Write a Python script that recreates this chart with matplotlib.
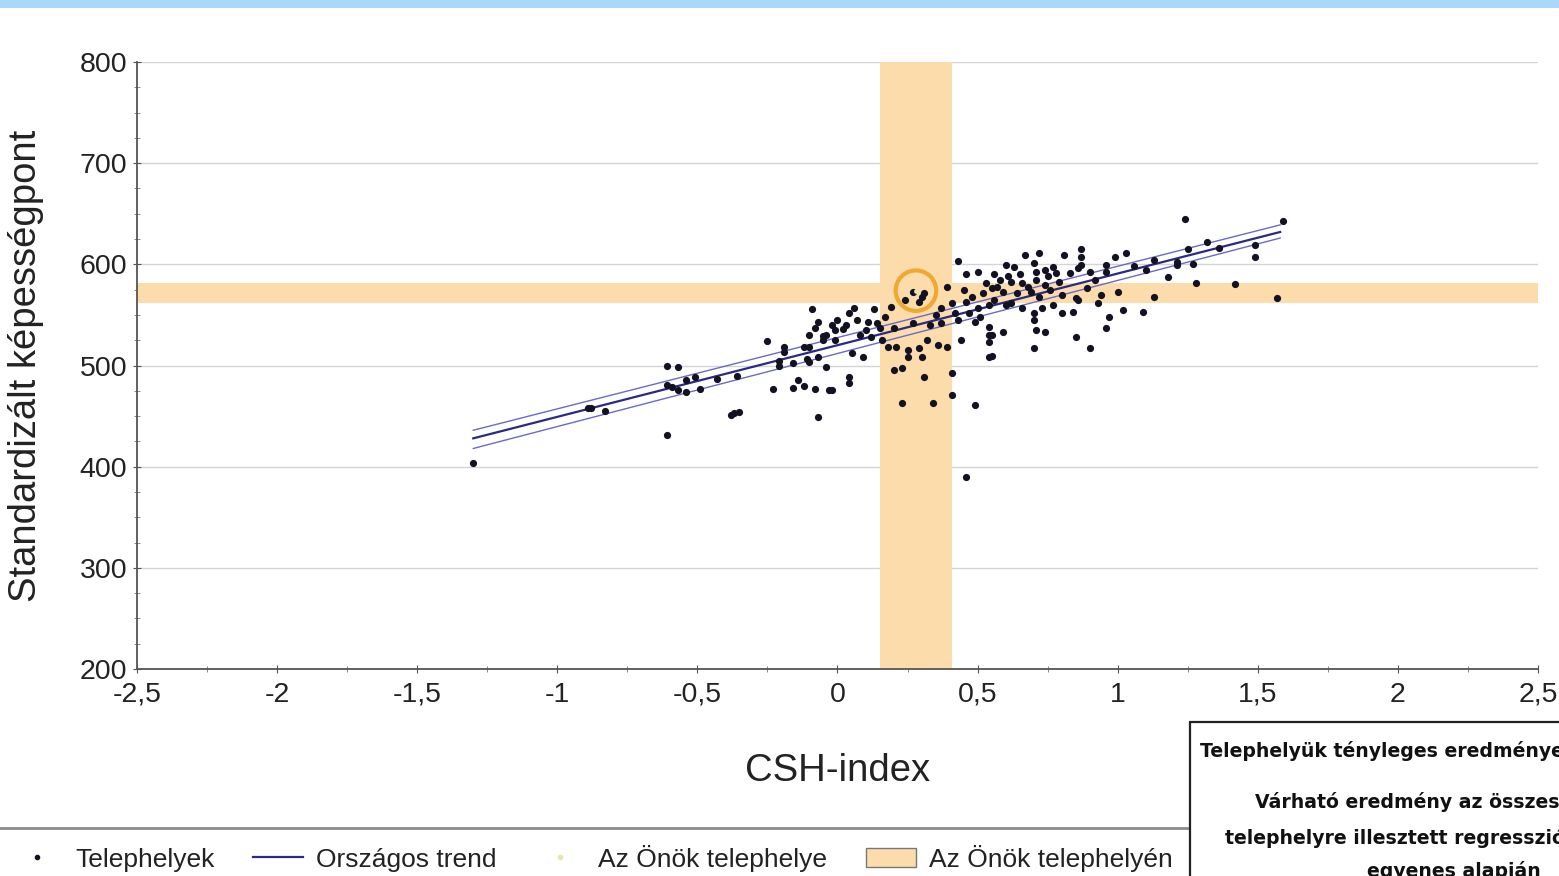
import matplotlib
matplotlib.use("Agg")
import matplotlib.pyplot as plt
from matplotlib.ticker import MultipleLocator, FuncFormatter
from matplotlib.patches import Rectangle, Patch
from matplotlib.lines import Line2D

plt.rcParams['font.family'] = ['Liberation Sans', 'DejaVu Sans']
plt.rcParams['axes.unicode_minus'] = False

# telephelyek (CSH-index, standardizalt kepessegpont)
sites_x = [-1.30, -0.89, -0.88, -0.83, -0.61,
           -0.61, -0.57, -0.61, -0.59, -0.57, -0.54, -0.54, -0.51, -0.49, -0.43, -0.36,
           -0.38, -0.35, -0.37,
           -0.23, -0.16, -0.14, -0.12, -0.08, -0.03, -0.07,
           -0.09, -0.07, -0.08, -0.10, -0.05, -0.25, -0.19, -0.19, -0.12, -0.10, -0.21, -0.21,
           -0.16, -0.11, -0.10, -0.07, -0.04,
           0.43, 0.46, 0.50, 0.56, 0.39, 0.45, 0.52, 0.55, 0.24, 0.29, 0.31, 0.37, 0.41, 0.46,
           0.50, 0.54, 0.19, 0.13, 0.06, 0.04, 0.07, 0.11, 0.14, -0.01, 0.02, -0.04, -0.01, -0.05,
           0.15, 0.20, 0.27, 0.33, 0.37, 0.43, 0.49, 0.54, 0.54, 0.55, 0.16, 0.18, 0.21, 0.25,
           0.29, 0.32, 0.36, 0.39, 0.44, 0.54, 0.25, 0.30, 0.09, 0.05, 0.20, 0.23, 0.31, 0.41,
           0.04, 0.04, -0.02, 0.41, 0.23, 0.34, 0.49, 0.54, 0.46,
           0.67, 0.72, 0.81, 0.87, 0.87, 0.99, 1.03, 0.60, 0.63, 0.70, 0.71, 0.74, 0.77, 0.78,
           0.83, 0.86, 0.87, 0.90, 0.96, 0.96, 0.61, 0.62, 0.66, 0.71, 0.74, 0.79, 0.89, 0.57,
           0.59, 0.64, 0.69, 0.72, 0.76, 0.85, 0.86, 0.94, 1.00, 0.56, 0.62, 0.66, 0.70, 0.73,
           0.77, 0.80, 0.84, 0.93, 0.97, 1.02, 1.09, 0.70, 0.71, 0.74, 0.59, 0.96, 0.85, 0.70,
           0.90, 0.55,
           1.24, 1.59, 1.32, 1.25, 1.36, 1.49, 1.13, 1.21, 1.21, 1.27, 1.49, 1.18, 1.28, 1.42,
           1.13, 1.57,
           1.06, 1.10, 0.27, 0.30, 0.00, 0.03, 0.08, 0.12, 0.10, 0.47, 0.51, 0.42,
           0.58, 0.65, 0.68, 0.75, 0.53, 0.48, 0.35, 0.17, -0.02, 0.60, 0.80, 0.92]
sites_y = [404, 458, 458, 455, 431,
           500, 499, 481, 479, 476, 474, 486, 489, 477, 487, 490,
           451, 454, 453,
           477, 478, 486, 480, 477, 476, 449,
           556, 543, 537, 530, 529, 524, 518, 513, 518, 518, 504, 500,
           502, 506, 503, 508, 499,
           603, 590, 592, 590, 578, 575, 572, 577, 565, 563, 572, 557, 562, 563,
           557, 560, 558, 556, 557, 552, 545, 543, 542, 535, 536, 530, 525, 525,
           537, 537, 542, 540, 542, 545, 543, 538, 530, 530, 525, 518, 518, 515,
           517, 525, 520, 518, 525, 523, 508, 508, 508, 512, 496, 498, 489, 493,
           489, 483, 476, 471, 463, 463, 461, 508, 390,
           609, 611, 609, 615, 607, 607, 611, 599, 597, 601, 592, 594, 597, 591,
           591, 596, 599, 592, 599, 592, 588, 583, 582, 585, 580, 583, 577, 578,
           573, 572, 573, 568, 575, 567, 565, 570, 573, 565, 562, 557, 552, 557,
           560, 552, 553, 562, 548, 555, 553, 545, 535, 533, 533, 537, 528, 517,
           517, 509,
           645, 643, 622, 615, 616, 619, 604, 602, 599, 600, 607, 587, 582, 581,
           568, 567,
           598, 594, 573, 568, 545, 540, 530, 528, 535, 552, 548, 552,
           585, 590, 578, 588, 582, 568, 550, 548, 540, 560, 570, 585]

# orszagos trend es savjai
trend_x = [-1.30, 1.58]
trend_mid = [428, 632]
trend_hi = [436, 639]
trend_lo = [418, 626]

# az Onok telephelye
own_x = 0.28
own_y = 574
own_x_band = [0.153, 0.407]
own_y_band = [562, 582]

band_col = '#fcdcaa'

fig = plt.figure(figsize=(15.59, 8.76), dpi=100)
ax = fig.add_axes([0.0879, 0.2363, 0.8986, 0.6929])

ax.axvspan(own_x_band[0], own_x_band[1], color=band_col, lw=0, zorder=1)
ax.axhspan(own_y_band[0], own_y_band[1], color=band_col, lw=0, zorder=1)

ax.plot(trend_x, trend_hi, color='#6a6ac8', lw=1.0, zorder=3)
ax.plot(trend_x, trend_lo, color='#6a6ac8', lw=1.0, zorder=3)
ax.plot(trend_x, trend_mid, color='#2a2a85', lw=1.6, zorder=3)

ax.scatter(sites_x, sites_y, s=27, color='#121222', lw=0, zorder=4)
ax.scatter([own_x], [own_y], s=12, color='#e9e4b0', lw=0, zorder=5)
ax.scatter([own_x], [own_y], s=850, facecolors='none', edgecolors='#f0a832', lw=3, zorder=5)

ax.set_xlim(-2.5, 2.5)
ax.set_ylim(200, 800)
ax.xaxis.set_major_locator(MultipleLocator(0.5))
ax.xaxis.set_minor_locator(MultipleLocator(0.25))
ax.yaxis.set_major_locator(MultipleLocator(100))
ax.yaxis.set_minor_locator(MultipleLocator(25))
fmt = FuncFormatter(lambda v, p: ('%g' % v).replace('.', ','))
ax.xaxis.set_major_formatter(fmt)
ax.grid(axis='y', color='#d4d4d4', lw=1, zorder=0)
ax.set_axisbelow(True)
for s in ['top', 'right']:
    ax.spines[s].set_visible(False)
for s in ['left', 'bottom']:
    ax.spines[s].set_color('#555555')
    ax.spines[s].set_linewidth(1.3)
ax.tick_params(axis='both', which='major', labelsize=20.5, colors='#555555',
               labelcolor='#222222', length=6, direction='inout')
ax.tick_params(axis='both', which='minor', colors='#777777', length=4, direction='inout')
ax.tick_params(axis='x', pad=6)
ax.tick_params(axis='y', pad=4)

ax.set_xlabel('CSH-index', fontsize=27.5, color='#222222', labelpad=33)
ax.set_ylabel('Standardizált képességpont', fontsize=27.5, color='#222222', labelpad=26)

# felso kek csik
fig.add_artist(Rectangle((0, 1 - 8 / 876), 1, 8 / 876, transform=fig.transFigure,
                         facecolor='#a8d9fb', edgecolor='none'))

# elvalaszto vonal a jelmagyarazat folott
fig.add_artist(Line2D([0, 1190 / 1559], [1 - 828 / 876] * 2, transform=fig.transFigure,
                      color='#8a8a8a', lw=2))

handles = [
    Line2D([], [], ls='none', marker='o', markersize=3, color='#121222'),
    Line2D([], [], color='#2a2a85', lw=1.6),
    Line2D([], [], ls='none', marker='o', markersize=3, color='#e9e4b0'),
    Patch(facecolor=band_col, edgecolor='#777777', lw=1),
]
labels = ['Telephelyek', 'Országos trend', 'Az Önök telephelye', 'Az Önök telephelyén']
fig.legend(handles, labels, loc='center left', bbox_to_anchor=(0.0077, 1 - 858 / 876),
           ncol=4, frameon=False, fontsize=19, borderpad=0, borderaxespad=0,
           handlelength=1.9, handletextpad=0.5, columnspacing=1.45, labelcolor='#222222')

# jobb also doboz
fig.add_artist(Rectangle((1190 / 1559, -0.01), 0.3, (876 - 722) / 876 + 0.01,
                         transform=fig.transFigure, facecolor='white', edgecolor='#222222',
                         lw=1.6, zorder=10))
box_lines = ['Telephelyük tényleges eredménye', 'Várható eredmény az összes',
             'telephelyre illesztett regressziós', 'egyenes alapján']
box_pos = [(1200, 751), (1255, 802), (1225, 838), (1367, 871)]
for txt, (px, py) in zip(box_lines, box_pos):
    fig.text(px / 1559, 1 - py / 876, txt, fontsize=13.6, fontweight='bold',
             family='DejaVu Sans', va='center', ha='left', color='#111111', zorder=11)

fig.savefig('out.png', dpi=100)
